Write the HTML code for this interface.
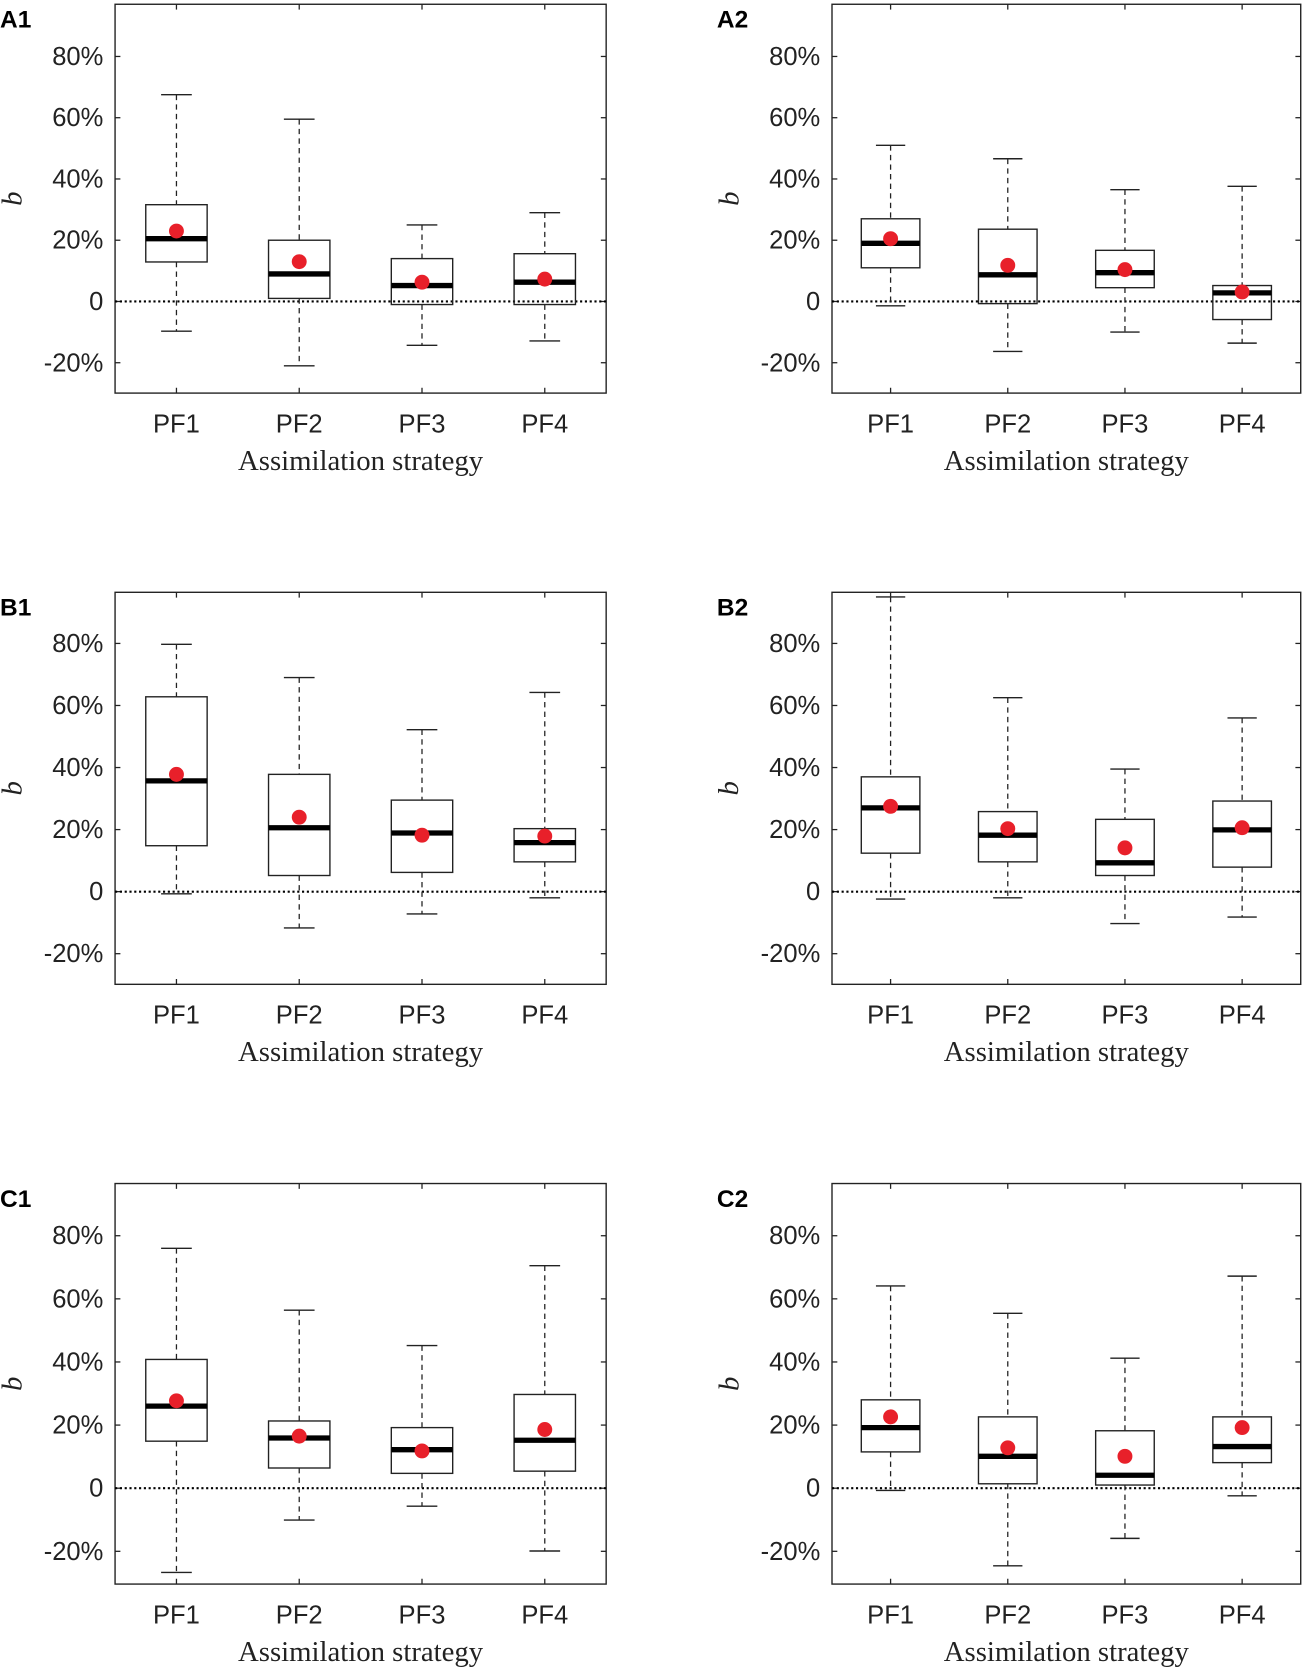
<!DOCTYPE html>
<html><head><meta charset="utf-8"><style>
html,body{margin:0;padding:0;background:#fff;}
svg{display:block;}
.tk{font-family:"Liberation Sans",sans-serif;font-size:24px;fill:#222;}
.ttl{font-family:"Liberation Serif",serif;font-size:27px;fill:#222;}
.pl{font-family:"Liberation Sans",sans-serif;font-size:23px;font-weight:bold;fill:#000;}
</style></head><body>
<svg id="chart" width="1305" height="1671" viewBox="0 0 1225 1568.6" xmlns="http://www.w3.org/2000/svg"></svg>
<script>
const categories = ["PF1","PF2","PF3","PF4"];
const yTicks = [-20,0,20,40,60,80];
const yTickLabels = ["-20%","0","20%","40%","60%","80%"];
const panelNames = ["A1","A2","B1","B2","C1","C2"];
// each: [whiskerLow, Q1, median, Q3, whiskerHigh] per category
const A1box = [[-9.7,12.9,20.5,31.6,67.5],[-21,1,9,20,59.5],[-14.3,-1,5.2,14,25],[-12.9,-1,6.3,15.6,29]];
const A1mean = [23,13,6.3,7.3];
const A2box = [[-1.4,11,19,27,51],[-16.3,-0.7,8.7,23.6,46.6],[-10,4.5,9.4,16.7,36.5],[-13.6,-5.9,2.8,5.2,37.6]];
const A2mean = [20.5,11.8,10.4,3.1];
const B1box = [[-0.7,14.8,35.7,62.8,79.7],[-11.7,5.2,20.6,37.8,69],[-7.2,6.2,18.9,29.5,52.2],[-2,9.6,15.8,20.3,64.2]];
const B1mean = [37.8,24,18.2,17.9];
const B2box = [[-2.4,12.4,27,37,95],[-2,9.6,18.2,25.8,62.5],[-10.3,5.2,9.3,23.3,39.5],[-8.2,7.9,19.9,29.2,56]];
const B2mean = [27.5,20.3,14.1,20.6];
const C1box = [[-26.7,14.9,26,40.8,76],[-10.1,6.4,15.9,21.3,56.4],[-5.7,4.7,12.2,19.2,45.2],[-19.9,5.4,15.2,29.7,70.5]];
const C1mean = [27.7,16.5,11.8,18.6];
const C2box = [[-0.7,11.5,19.2,28,64.1],[-24.6,1.4,10.1,22.6,55.4],[-15.9,1,4.1,18.2,41.2],[-2.4,8.1,13.2,22.6,67.2]];
const C2mean = [22.6,12.8,10.1,19.2];
const boxData = [A1box,A2box,B1box,B2box,C1box,C2box];
const meanData = [A1mean,A2mean,B1mean,B2mean,C1mean,C2mean];

const svg = document.getElementById('chart');
const NS = "http://www.w3.org/2000/svg";
function mk(tag, attrs, parent){const e=document.createElementNS(NS,tag);for(const k in attrs)e.setAttribute(k,attrs[k]);(parent||svg).appendChild(e);return e;}
const layouts = [
 {l:108,r:569,t:4,b:369,z:283,p80:53},
 {l:781,r:1221,t:4,b:369,z:283,p80:53},
 {l:108,r:569,t:556,b:924,z:837,p80:604},
 {l:781,r:1221,t:556,b:924,z:837,p80:604},
 {l:108,r:569,t:1111,b:1487,z:1397,p80:1160},
 {l:781,r:1221,t:1111,b:1487,z:1397,p80:1160}
];
layouts.forEach((L,pi)=>{
  const g = mk('g',{});
  
  
  const ys = (L.z-L.p80)/80;
  const yS = v => L.z - v*ys;
  const xS = c => L.l + (c+0.5)*(L.r-L.l)/4;
  const unit = (L.r-L.l)/4;
  const fr = mk('rect',{x:L.l,y:L.t,width:L.r-L.l,height:L.b-L.t,fill:'none',stroke:'#222','stroke-width':1.3},g);
  
  
  yTicks.forEach((v,i)=>{
    const y=yS(v);
    mk('line',{x1:L.l,x2:L.l+5,y1:y,y2:y,stroke:'#222','stroke-width':1.2},g);
    mk('line',{x1:L.r,x2:L.r-5,y1:y,y2:y,stroke:'#222','stroke-width':1.2},g);
    const t=mk('text',{x:L.l-11,y:y+8,'text-anchor':'end',class:'tk'},g);
    t.textContent=yTickLabels[i];
    
    
  });
  const zl = mk('line',{x1:L.l,x2:L.r,y1:yS(0),y2:yS(0),stroke:'#000','stroke-width':2,'stroke-dasharray':'2,2.5'},g);
  
  
  categories.forEach((c,ci)=>{
    const x=xS(ci);
    mk('line',{x1:x,x2:x,y1:L.b,y2:L.b-5,stroke:'#222','stroke-width':1.2},g);
    mk('line',{x1:x,x2:x,y1:L.t,y2:L.t+5,stroke:'#222','stroke-width':1.2},g);
    const t=mk('text',{x:x,y:L.b+37,'text-anchor':'middle',class:'tk'},g);
    t.textContent=c;
    
    
    const d=boxData[pi][ci];
    const bg=mk('g',{},g);
    
    
    mk('line',{x1:x,x2:x,y1:yS(d[4]),y2:yS(d[3]),stroke:'#222','stroke-width':1.2,'stroke-dasharray':'5,4'},bg);
    mk('line',{x1:x,x2:x,y1:yS(d[1]),y2:yS(d[0]),stroke:'#222','stroke-width':1.2,'stroke-dasharray':'5,4'},bg);
    const cw=unit*0.125;
    mk('line',{x1:x-cw,x2:x+cw,y1:yS(d[4]),y2:yS(d[4]),stroke:'#222','stroke-width':1.3},bg);
    mk('line',{x1:x-cw,x2:x+cw,y1:yS(d[0]),y2:yS(d[0]),stroke:'#222','stroke-width':1.3},bg);
    const bw=unit*0.25;
    mk('rect',{x:x-bw,y:yS(d[3]),width:2*bw,height:yS(d[1])-yS(d[3]),fill:'none',stroke:'#222','stroke-width':1.3},bg);
    mk('line',{x1:x-bw,x2:x+bw,y1:yS(d[2]),y2:yS(d[2]),stroke:'#000','stroke-width':5},bg);
    const m=mk('circle',{cx:x,cy:yS(meanData[pi][ci]),r:7,fill:'#e8202a'},bg);
    
    
  });
  const xt=mk('text',{x:(L.l+L.r)/2,y:L.b+72,'text-anchor':'middle',class:'ttl'},g);
  xt.textContent='Assimilation strategy';
  
  
  const ly=(L.t+L.b)/2;
  const lx=L.l-88;
  const yt=mk('text',{x:lx,y:ly,'text-anchor':'middle',class:'ttl','font-style':'italic',transform:'rotate(-90 '+lx+' '+ly+')'},g);
  yt.textContent='b';
  
  
  const pl=mk('text',{x:L.l-108,y:L.t+22,class:'pl'},g);
  pl.textContent=panelNames[pi];
  
  
});
</script>
</body></html>
